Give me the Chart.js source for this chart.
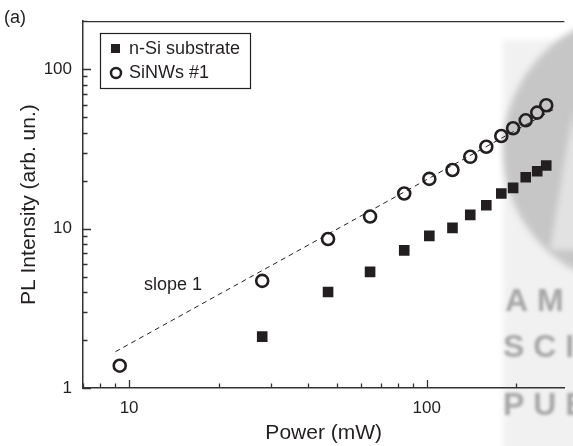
<!DOCTYPE html>
<html>
<head>
<meta charset="utf-8">
<script src="https://cdn.jsdelivr.net/npm/chart.js@4/dist/chart.umd.min.js"></script>
<style>
  html, body { margin: 0; padding: 0; background: #fff; }
  #wrap { width: 573px; height: 446px; position: relative; }
</style>
</head>
<body>
<div id="wrap"><canvas id="plChart"></canvas></div>
<script>
const powerSiNW = [9.3, 28, 46.6, 64.5, 84, 102, 122, 140, 158.5, 178, 195, 215, 235, 252];
const intensitySiNW = [1.38, 4.7, 8.6, 11.9, 16.6, 20.5, 23.3, 28.2, 32.6, 38.1, 42.6, 47.8, 53.4, 59.4];
const powerSubstrate = [28, 46.6, 64.5, 84, 102, 122, 140, 158.5, 178, 195, 215, 235, 252];
const intensitySubstrate = [2.1, 4.0, 5.35, 7.3, 9.0, 10.1, 12.2, 14.0, 16.6, 18.0, 21.0, 22.9, 24.9];
const slopePower = [9, 267];
const slopeIntensity = [1.69, 56];
const xTickValues = [10, 100];
const xMinorTicks = [7, 8, 9, 20, 30, 40, 50, 60, 70, 80, 90, 200];
const yTickValues = [1, 10, 100];
const yMinorTicks = [2, 3, 4, 5, 6, 7, 8, 9, 20, 30, 40, 50, 60, 70, 80, 90, 200];

const ink = "#231f20";
const axisColor = "#333";
const font = "'Liberation Sans', Arial, sans-serif";

const toPoints = (xs, ys) => xs.map((x, i) => ({ x, y: ys[i] }));

// grey publisher watermark sitting behind the right side of the plot
const watermark = {
  id: "watermark",
  beforeDraw(chart) {
    const { ctx } = chart;
    ctx.save();
    ctx.filter = "blur(3px)";
    ctx.fillStyle = "#f1f1f1";
    ctx.fillRect(503, 40, 80, 420);
    ctx.fillStyle = "#c6c6c6";
    ctx.beginPath();
    ctx.arc(640, 150, 137, 0, Math.PI * 2);
    ctx.fill();
    ctx.fillStyle = "#e2e2e2";
    ctx.beginPath();
    ctx.moveTo(550, 250);
    ctx.lineTo(573, 110);
    ctx.lineTo(590, 250);
    ctx.closePath();
    ctx.fill();
    ctx.filter = "blur(1.5px)";
    ctx.fillStyle = "#a6a6a6";
    ctx.font = "bold 32px " + font;
    ctx.textBaseline = "middle";
    ctx.fillText("A M", 505, 302);
    ctx.fillText("S C I", 503, 348);
    ctx.fillText("P U B", 503, 406);
    ctx.restore();
  },
};

// inward ticks, top frame line, panel label, slope note and boxed legend
const decorations = {
  id: "decorations",
  afterDraw(chart) {
    const { ctx, chartArea, scales } = chart;
    const { x: xs, y: ys } = scales;
    ctx.save();
    ctx.strokeStyle = axisColor;
    ctx.lineWidth = 1.3;
    ctx.beginPath();
    ctx.moveTo(chartArea.left, chartArea.top + 0.5);
    ctx.lineTo(chartArea.right, chartArea.top + 0.5);
    xTickValues.concat(xMinorTicks).forEach((v) => {
      const len = xTickValues.includes(v) ? 8 : 4.5;
      const px = Math.round(xs.getPixelForValue(v)) + 0.5;
      ctx.moveTo(px, chartArea.bottom);
      ctx.lineTo(px, chartArea.bottom - len);
    });
    yTickValues.concat(yMinorTicks).forEach((v) => {
      const len = yTickValues.includes(v) ? 8 : 4.5;
      const py = Math.round(ys.getPixelForValue(v)) + 0.5;
      ctx.moveTo(chartArea.left, py);
      ctx.lineTo(chartArea.left + len, py);
    });
    ctx.stroke();

    ctx.fillStyle = ink;
    ctx.font = "18px " + font;
    ctx.textBaseline = "middle";
    ctx.fillText("(a)", 4, 18);
    ctx.fillText("slope 1", 144, 285);

    // legend
    ctx.strokeStyle = ink;
    ctx.lineWidth = 1.2;
    ctx.strokeRect(100.5, 33.5, 150, 55);
    ctx.fillRect(111, 44, 9, 9);
    ctx.lineWidth = 2.5;
    ctx.beginPath();
    ctx.arc(116, 73, 5, 0, Math.PI * 2);
    ctx.stroke();
    ctx.fillText(chart.data.datasets[0].label, 129, 49);
    ctx.fillText(chart.data.datasets[1].label, 129, 73);
    ctx.restore();
  },
};

new Chart(document.getElementById("plChart"), {
  type: "scatter",
  data: {
    datasets: [
      {
        label: "n-Si substrate",
        data: toPoints(powerSubstrate, intensitySubstrate),
        pointStyle: "rect",
        pointRadius: 7.5,
        backgroundColor: ink,
        borderColor: ink,
        borderWidth: 0,
      },
      {
        label: "SiNWs #1",
        data: toPoints(powerSiNW, intensitySiNW),
        pointStyle: "circle",
        pointRadius: 6,
        backgroundColor: "rgba(255,255,255,0)",
        borderColor: ink,
        borderWidth: 2.6,
      },
      {
        label: "slope",
        data: toPoints(slopePower, slopeIntensity),
        showLine: true,
        pointRadius: 0,
        borderColor: ink,
        borderWidth: 1,
        borderDash: [5, 4],
      },
    ],
  },
  options: {
    responsive: true,
    maintainAspectRatio: false,
    animation: false,
    layout: { padding: { top: 21, right: 0, left: 0, bottom: 0 } },
    scales: {
      x: {
        type: "logarithmic",
        min: 7,
        max: 290,
        afterBuildTicks: (scale) => {
          scale.ticks = xTickValues.map((value) => ({ value }));
        },
        afterFit: (scale) => {
          scale.height = 58;
        },
        grid: { display: false, drawTicks: false },
        border: { display: true, color: axisColor, width: 1.5 },
        ticks: {
          color: ink,
          padding: 10,
          maxRotation: 0,
          font: { family: font, size: 17 },
          callback: (value) => String(value),
        },
        title: {
          display: true,
          text: "Power (mW)",
          color: ink,
          font: { family: font, size: 21 },
          padding: { top: 0, bottom: 0 },
        },
      },
      y: {
        type: "logarithmic",
        min: 1,
        max: 200,
        afterBuildTicks: (scale) => {
          scale.ticks = yTickValues.map((value) => ({ value }));
        },
        afterFit: (scale) => {
          scale.width = 83;
        },
        grid: { display: false, drawTicks: false },
        border: { display: true, color: axisColor, width: 1.5 },
        ticks: {
          color: ink,
          padding: 11,
          font: { family: font, size: 17 },
          callback: (value) => String(value),
        },
        title: {
          display: true,
          text: "PL Intensity (arb. un.)",
          color: ink,
          font: { family: font, size: 21 },
          padding: { top: 17, bottom: 0 },
        },
      },
    },
    plugins: {
      legend: { display: false },
      tooltip: { enabled: false },
    },
  },
  plugins: [watermark, decorations],
});
</script>
</body>
</html>
